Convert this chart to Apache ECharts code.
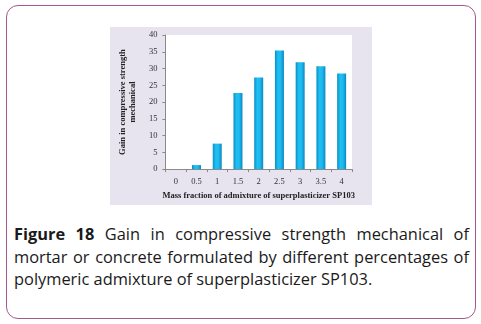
<!DOCTYPE html>
<html><head><meta charset="utf-8">
<script src="https://cdn.jsdelivr.net/npm/echarts@6/dist/echarts.min.js"></script>
<style>
html,body{margin:0;padding:0;background:#fff;width:481px;height:324px;overflow:hidden;}
#frame{position:absolute;left:6px;top:5px;width:470px;height:314px;border:1.5px solid #a5588a;border-radius:12px;box-sizing:border-box;}
#chart{position:absolute;left:110px;top:27px;width:262px;height:178px;}
#cap{position:absolute;left:14px;top:223px;width:455px;font-family:"Open Sans",sans-serif;font-size:16.4px;line-height:22.5px;color:#1a1a1a;text-align:justify;}
#cap b{font-weight:bold;}
</style></head>
<body>
<div id="frame"></div>
<div id="chart"></div>
<div id="cap"><b>Figure 18</b> Gain in compressive strength mechanical of mortar or concrete formulated by different percentages of polymeric admixture of superplasticizer SP103.</div>
<script>
var categories = ['0','0.5','1','1.5','2','2.5','3','3.5','4'];
var gainValues = [0, 1.2, 7.6, 22.7, 27.3, 35.4, 31.9, 30.7, 28.5];
var yTicks = {min:0, max:40, interval:5};
var xTitle = 'Mass fraction of admixture of superplasticizer SP103';
var yTitle = 'Gain in compressive strength\nmechanical';

var chart = echarts.init(document.getElementById('chart'), null, {renderer:'canvas'});
var serif = '"Liberation Serif","Times New Roman",serif';
chart.setOption({
  backgroundColor:'#e7e3ef',
  animation:false,
  grid:{left:43, right:20, top:8, bottom:31, show:true, backgroundColor:'#ffffff', borderWidth:0},
  xAxis:{
    type:'category', data:categories,
    name:xTitle, nameLocation:'middle', nameGap:19,
    nameTextStyle:{fontFamily:serif, fontSize:8.5, fontWeight:'bold', color:'#222'},
    axisLine:{lineStyle:{color:'#8a8a8a'}},
    axisTick:{show:true, length:3, lineStyle:{color:'#8a8a8a'}},
    axisLabel:{fontFamily:serif, fontSize:8.5, color:'#333', margin:8}
  },
  yAxis:{
    type:'value', min:yTicks.min, max:yTicks.max, interval:yTicks.interval,
    name:yTitle, nameLocation:'middle', nameGap:22, nameRotate:90,
    nameTextStyle:{fontFamily:serif, fontSize:8.5, fontWeight:'bold', color:'#222', lineHeight:10},
    axisLine:{show:true, lineStyle:{color:'#8a8a8a'}},
    axisTick:{show:true, length:3, lineStyle:{color:'#8a8a8a'}},
    splitLine:{show:false},
    axisLabel:{fontFamily:serif, fontSize:8.5, color:'#333', margin:8}
  },
  series:[{
    type:'bar', data:gainValues, barWidth:9,
    itemStyle:{
      color:new echarts.graphic.LinearGradient(0,0,1,0,[
        {offset:0,color:'#0b8fc6'},{offset:0.35,color:'#1fc0f2'},{offset:0.65,color:'#1cb8ee'},{offset:1,color:'#0a88c0'}
      ])
    }
  }]
});
</script>
</body></html>
